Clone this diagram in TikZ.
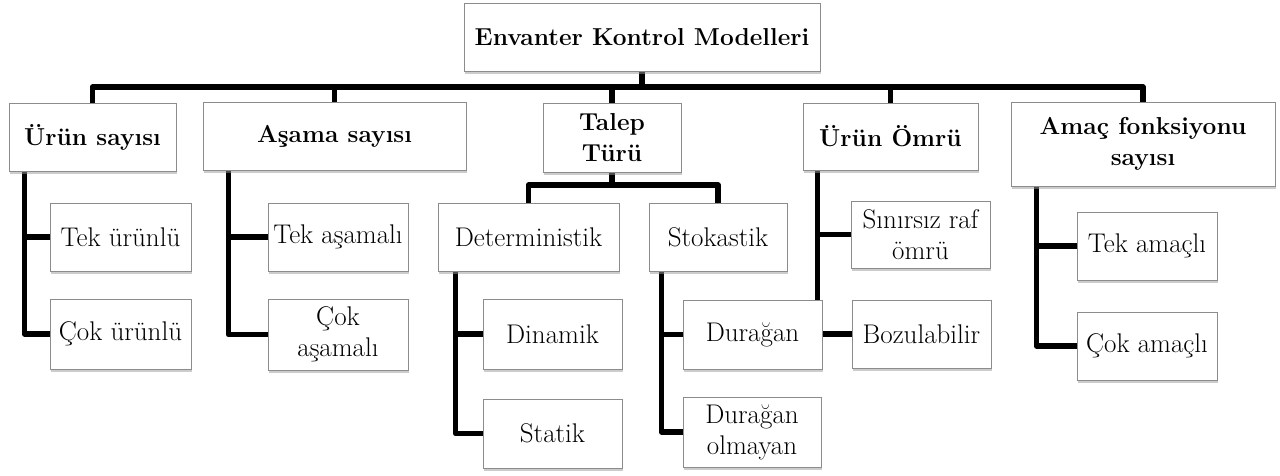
\documentclass[tikz,border=0pt]{standalone}
\usepackage{fontspec}
\usetikzlibrary{shadows,backgrounds}

\begin{document}
\begin{tikzpicture}[x=1pt, y=-1pt,
    leaf/.style={draw=black!45, fill=white, line width=1pt, align=center, inner sep=0pt,
        font=\fontsize{27}{31}\selectfont,
        drop shadow={shadow xshift=0.5pt, shadow yshift=-3pt, fill=black!40}},
    head/.style={leaf, font=\fontsize{24.5}{31}\selectfont\bfseries},
    conn/.style={line width=5.5pt, line join=round}]
        \useasboundingbox (0,0) rectangle (1280,475);

        % Root
        \node[head, minimum width=356, minimum height=68] (root) at (642,37) {Envanter Kontrol Modelleri};

        % Main criteria
        \node[head, minimum width=167, minimum height=68] (urun) at (92.5,137) {Ürün sayısı};
        \node[head, minimum width=263, minimum height=68] (asama) at (334.5,136) {Aşama sayısı};
        \node[head, minimum width=138, minimum height=69] (talep) at (612,137.5) {Talep\\Türü};
        \node[head, minimum width=175, minimum height=67] (omur) at (890.5,136.5) {Ürün Ömrü};
        \node[head, minimum width=264, minimum height=84] (amac) at (1143,144) {Amaç fonksiyonu\\sayısı};

        % Number of products
        \node[leaf, minimum width=141, minimum height=68] (tekurun) at (120.5,237) {Tek ürünlü};
        \node[leaf, minimum width=141, minimum height=70] (cokurun) at (120.5,334) {Çok ürünlü};

        % Number of stages
        \node[leaf, minimum width=140, minimum height=68] (tekasama) at (338,237) {Tek aşamalı};
        \node[leaf, minimum width=140, minimum height=71] (cokasama) at (338,334.5) {Çok\\aşamalı};

        % Demand type
        \node[leaf, minimum width=181, minimum height=68] (determ) at (528.5,237) {Deterministik};
        \node[leaf, minimum width=138, minimum height=68] (stok) at (718,237) {Stokastik};
        \node[leaf, minimum width=139, minimum height=70] (dinamik) at (552.5,334) {Dinamik};
        \node[leaf, minimum width=139, minimum height=69] (statik) at (552.5,433.5) {Statik};
        \node[leaf, minimum width=139, minimum height=69] (duragan) at (752.5,334.5) {Durağan};
        \node[leaf, minimum width=138, minimum height=70] (duraganol) at (752,432) {Durağan\\olmayan};

        % Product life
        \node[leaf, minimum width=139, minimum height=67] (sinirsiz) at (920.5,234.5) {Sınırsız raf\\ömrü};
        \node[leaf, minimum width=139, minimum height=68] (bozul) at (921.5,334) {Bozulabilir};

        % Objective functions
        \node[leaf, minimum width=140, minimum height=68] (tekamac) at (1147,246) {Tek amaçlı};
        \node[leaf, minimum width=140, minimum height=68] (cokamac) at (1147,346) {Çok amaçlı};

        \begin{pgfonlayer}{background}
            % Top bar
            \coordinate (bar) at (0,87);
            \draw[conn] (root.south) -- (root.south |- bar);
            \draw[conn] (urun.north) |- (amac.north |- bar) -- (amac.north);
            \foreach \n in {asama,talep,omur}
                \draw[conn] (\n.north) -- (\n.north |- bar);

            % Demand bar
            \coordinate (tbar) at (0,185);
            \draw[conn] (talep.south) -- (talep.south |- tbar);
            \draw[conn] (determ.north) |- (stok.north |- tbar) -- (stok.north);

            % Trunks
            \foreach \p/\d/\c in {urun/16/tekurun, urun/16/cokurun,
                    asama/26/tekasama, asama/26/cokasama,
                    determ/18/dinamik, determ/18/statik,
                    stok/13/duragan, stok/13/duraganol,
                    omur/15/sinirsiz, omur/15/bozul,
                    amac/26/tekamac, amac/26/cokamac}
                \draw[conn] (\p.south west) ++(\d,0) |- (\c.west);
        \end{pgfonlayer}
    \end{tikzpicture}
\end{document}
